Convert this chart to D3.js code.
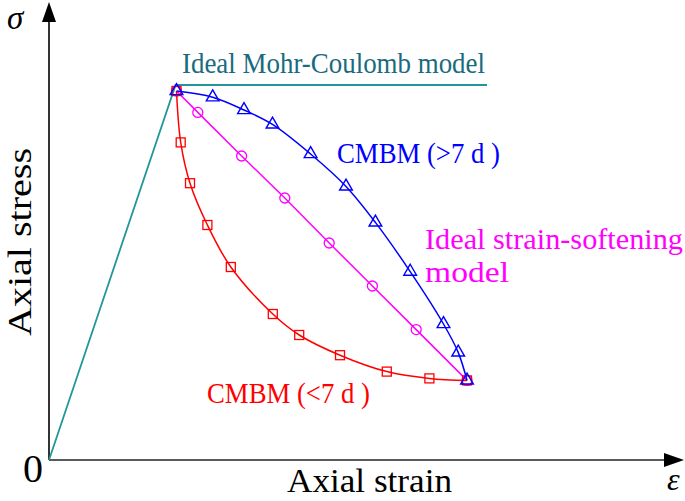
<!DOCTYPE html>
<html>
<head>
<meta charset="utf-8">
<script src="https://cdn.jsdelivr.net/npm/d3@7/dist/d3.min.js"></script>
<style>
html,body{margin:0;padding:0;background:#fff;}
svg{display:block;}
text{font-family:"Liberation Serif","Times New Roman",serif;}
</style>
</head>
<body>
<script>
// Data (strain, stress) in arbitrary normalized units
const mohrCoulomb = [[0,0],[21.1,93.75],[73.0,93.75]];
const cmbmOver7 = [[21.25,92.25],[27.28,90.7],[32.5,87.5],[37.25,83.9],[43.6,76.5],[49.5,68.4],[54.4,59.4],[60.2,47.1],[65.75,34.0],[68.2,26.9],[69.67,19.9]];
const idealSoftening = [[21.25,92.25],[24.8,86.9],[32.1,76.0],[39.3,65.5],[46.7,54.25],[53.9,43.5],[61.2,32.6],[69.67,19.9]];
const cmbmUnder7 = [[21.25,92.25],[21.95,79.4],[23.5,69.2],[26.4,58.75],[30.3,48.25],[37.3,36.5],[41.7,31.25],[48.5,26.2],[56.3,22.1],[63.4,20.4],[69.67,19.9]];
const labels = {
  mc: "Ideal Mohr-Coulomb model",
  over: "CMBM (>7 d )",
  soft1: "Ideal strain-softening",
  soft2: "model",
  under: "CMBM (<7 d )",
  xTitle: "Axial strain",
  yTitle: "Axial stress",
  xSym: "ε",
  ySym: "σ",
  origin: "0"
};

const W = 685, H = 501;
const svg = d3.select("body").append("svg").attr("width", W).attr("height", H);

const x = d3.scaleLinear().domain([0,100]).range([49,649]);
const y = d3.scaleLinear().domain([0,100]).range([460,60]);

const teal = "#23969a", tealText = "#1a6b7d";

// Axes
svg.append("line").attr("x1", x(0)).attr("y1", y(0)).attr("x2", x(0)).attr("y2", 20)
  .attr("stroke", "#000").attr("stroke-width", 1.6);
svg.append("line").attr("x1", x(0)).attr("y1", y(0)).attr("x2", 666).attr("y2", y(0))
  .attr("stroke", "#222").attr("stroke-width", 1.6);
// arrow heads
svg.append("path").attr("d", `M${x(0)},2 L${x(0)-7},22 L${x(0)+7},22 Z`).attr("fill", "#000");
svg.append("path").attr("d", `M684,${y(0)} L664,${y(0)-7} L664,${y(0)+7} Z`).attr("fill", "#000");

const lin = d3.line().x(d => x(d[0])).y(d => y(d[1]));
const smooth = d3.line().x(d => x(d[0])).y(d => y(d[1])).curve(d3.curveCatmullRom.alpha(0.5));

// Mohr-Coulomb
svg.append("path").attr("d", lin(mohrCoulomb)).attr("fill", "none").attr("stroke", teal).attr("stroke-width", 1.8);

// Ideal strain-softening
svg.append("path").attr("d", lin(idealSoftening)).attr("fill", "none").attr("stroke", "#ff00ff").attr("stroke-width", 1.5);
svg.selectAll(".circ").data(idealSoftening).enter().append("circle")
  .attr("cx", d => x(d[0])).attr("cy", d => y(d[1])).attr("r", 5)
  .attr("fill", "none").attr("stroke", "#ff00ff").attr("stroke-width", 1.3);

// CMBM <7d
svg.append("path").attr("d", smooth(cmbmUnder7)).attr("fill", "none").attr("stroke", "#ff0000").attr("stroke-width", 1.5);
svg.selectAll(".sq").data(cmbmUnder7).enter().append("rect")
  .attr("x", d => x(d[0]) - 4.5).attr("y", d => y(d[1]) - 4.5).attr("width", 9).attr("height", 9)
  .attr("fill", "none").attr("stroke", "#ff0000").attr("stroke-width", 1.3);

// CMBM >7d
svg.append("path").attr("d", smooth(cmbmOver7)).attr("fill", "none").attr("stroke", "#0000ff").attr("stroke-width", 1.5);
const tri = d3.symbol().type(d3.symbolTriangle).size(70);
svg.selectAll(".tri").data(cmbmOver7).enter().append("path")
  .attr("d", tri).attr("transform", d => `translate(${x(d[0])},${y(d[1])})`)
  .attr("fill", "none").attr("stroke", "#0000ff").attr("stroke-width", 1.4);

// Labels
function lab(t, px, py, size, color, len) {
  const e = svg.append("text").attr("x", px).attr("y", py).attr("font-size", size).attr("fill", color).text(t);
  if (len) e.attr("textLength", len).attr("lengthAdjust", "spacingAndGlyphs");
  return e;
}
lab(labels.mc, 182, 73, 29, tealText, 303);
lab(labels.over, 337, 163, 29, "#0000ff", 163);
lab(labels.soft1, 425, 249, 29, "#ff00ff", 258);
lab(labels.soft2, 425, 282, 29, "#ff00ff", 84);
lab(labels.under, 207, 403, 29, "#ff0000", 163);
lab(labels.xTitle, 287, 492, 34, "#000", 165);
svg.append("text").attr("transform", "translate(31,242) rotate(-90)")
  .attr("text-anchor", "middle").attr("font-size", 34).attr("fill", "#000")
  .attr("textLength", 188).attr("lengthAdjust", "spacingAndGlyphs").text(labels.yTitle);
lab(labels.origin, 23, 482, 40, "#000");
svg.append("text").attr("x", 7).attr("y", 29).attr("font-size", 33).attr("font-style", "italic").attr("fill", "#000").text(labels.ySym);
svg.append("text").attr("x", 667).attr("y", 490).attr("font-size", 32).attr("font-style", "italic").attr("fill", "#000").text(labels.xSym);
</script>
</body>
</html>
